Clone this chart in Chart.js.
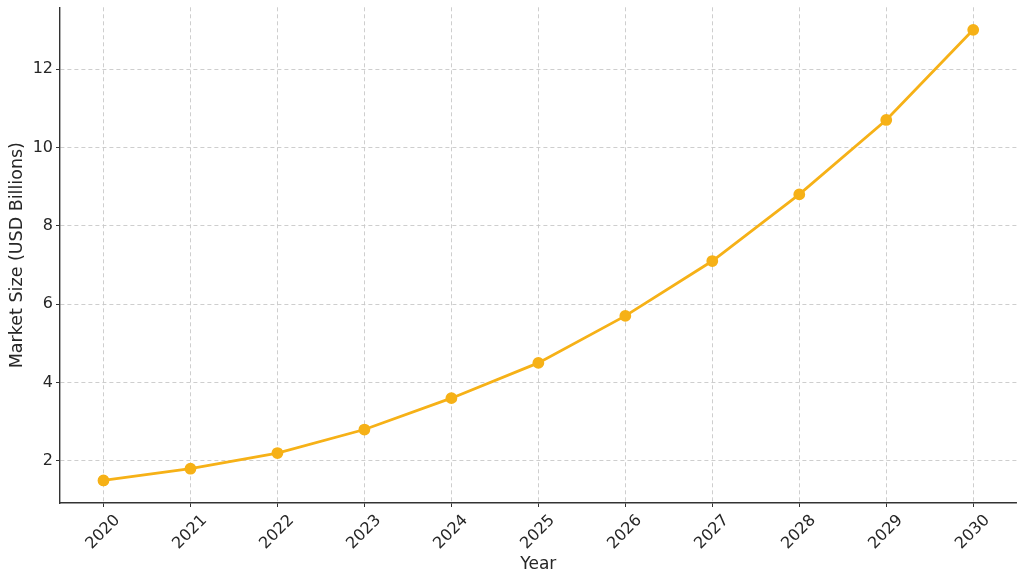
<!DOCTYPE html>
<html>
<head>
<meta charset="utf-8">
<script src="https://cdn.jsdelivr.net/npm/chart.js@4"></script>
<style>
  html, body { margin: 0; padding: 0; background: #fff; }
  #wrap { width: 1024px; height: 585px; }
</style>
</head>
<body>
<div id="wrap"><canvas id="market-chart"></canvas></div>
<script>
// Data
const years = ['2020', '2021', '2022', '2023', '2024', '2025', '2026', '2027', '2028', '2029', '2030'];
const marketSize = [1.5, 1.8, 2.2, 2.8, 3.6, 4.5, 5.7, 7.1, 8.8, 10.7, 13.0];
const yTicks = [2, 4, 6, 8, 10, 12];

const lineColor = '#f6b117';
const textColor = '#262626';
const tickFont = { family: 'DejaVu Sans', size: 16 };

const ctx = document.getElementById('market-chart').getContext('2d');

new Chart(ctx, {
    type: 'line',
    data: {
        labels: years,
        datasets: [{
            label: 'Market Size (USD Billions)',
            data: marketSize,
            borderColor: lineColor,
            backgroundColor: lineColor,
            borderWidth: 2.8,
            pointRadius: 4.5,
            pointHoverRadius: 4.5,
            tension: 0
        }]
    },
    options: {
        responsive: true,
        maintainAspectRatio: false,
        animation: false,
        layout: { padding: { top: 6, right: 6, left: 0, bottom: 0 } },
        plugins: {
            legend: { display: false },
            tooltip: { enabled: false }
        },
        scales: {
            x: {
                offset: true,
                grid: {
                    color: '#c8c8c8',
                    lineWidth: 0.9,
                    tickColor: '#333',
                    tickLength: 4,
                    tickBorderDash: [],
                    tickWidth: 1
                },
                border: { display: true, color: '#333', width: 1.4, dash: [4, 3] },
                ticks: {
                    color: textColor,
                    font: tickFont,
                    minRotation: 45,
                    maxRotation: 45,
                    padding: 4,
                    labelOffset: 14
                },
                title: {
                    display: true,
                    text: 'Year',
                    color: textColor,
                    font: { family: 'DejaVu Sans', size: 17 },
                    padding: { top: 0, bottom: 10 }
                },
                afterFit: (scale) => { scale.height = 82; }
            },
            y: {
                min: 0.925,
                max: 13.575,
                grid: {
                    color: '#c8c8c8',
                    lineWidth: 0.9,
                    tickColor: '#333',
                    tickLength: 4,
                    tickBorderDash: [],
                    tickWidth: 1
                },
                border: { display: true, color: '#333', width: 1.4, dash: [4, 3] },
                ticks: {
                    color: textColor,
                    font: tickFont,
                    padding: 3
                },
                afterBuildTicks: (scale) => {
                    scale.ticks = yTicks.map((v) => ({ value: v }));
                },
                title: {
                    display: true,
                    text: 'Market Size (USD Billions)',
                    color: textColor,
                    font: { family: 'DejaVu Sans', size: 17.5 },
                    padding: { top: 7, bottom: 0 }
                },
                afterFit: (scale) => {
                    scale.width = 60;
                    scale.paddingTop = 0;
                    scale.paddingBottom = 0;
                }
            }
        }
    }
});
</script>
</body>
</html>
